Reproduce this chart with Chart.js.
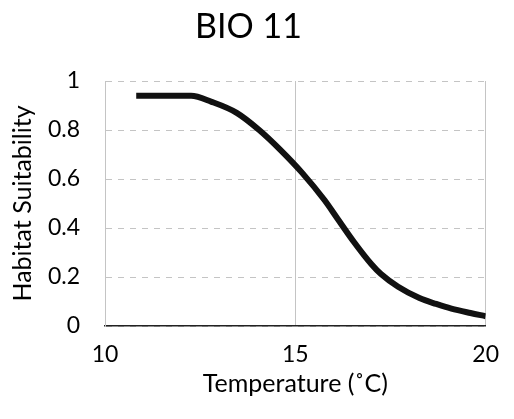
<!DOCTYPE html>
<html>
<head>
<meta charset="utf-8">
<script src="https://cdn.jsdelivr.net/npm/chart.js@4"></script>
<style>
  html, body { margin: 0; padding: 0; background: #fff; }
  #wrap { width: 514px; height: 419px; }
</style>
</head>
<body>
<div id="wrap"><canvas id="chart"></canvas></div>
<script>
// valores
const temperatura = [10.82, 11.5, 12.26, 12.8, 13.46, 14.05, 14.6, 15.18, 15.77, 16.1, 16.54, 17.0, 17.25, 17.7, 18.26, 18.7, 19.1, 19.6, 20.0];
const idoneidad   = [0.94, 0.94, 0.94, 0.915, 0.87, 0.80, 0.72, 0.625, 0.513, 0.44, 0.343, 0.252, 0.212, 0.16, 0.114, 0.09, 0.071, 0.053, 0.04];
const ticksX = [10, 15, 20];
const ticksY = [0, 0.2, 0.4, 0.6, 0.8, 1];

const fuente = 'Lato, "Open Sans", sans-serif';

const puntos = temperatura.map((t, i) => ({ x: t, y: idoneidad[i] }));

new Chart(document.getElementById('chart'), {
  type: 'line',
  data: {
    datasets: [{
      data: puntos,
      borderColor: '#111',
      borderWidth: 6,
      pointRadius: 0,
      cubicInterpolationMode: 'monotone',
      fill: false
    }]
  },
  options: {
    responsive: true,
    maintainAspectRatio: false,
    animation: false,
    layout: { padding: { left: 0, right: 17, top: 0, bottom: 0 } },
    plugins: {
      legend: { display: false },
      tooltip: { enabled: false },
      title: {
        display: true,
        text: 'BIO 11',
        color: '#000',
        font: { family: fuente, size: 34, weight: 'normal' },
        padding: { top: 7, bottom: 33.2 }
      }
    },
    scales: {
      x: {
        type: 'linear',
        min: 10,
        max: 20,
        afterBuildTicks: s => { s.ticks = ticksX.map(v => ({ value: v })); },
        afterFit: s => { s.height = 93; },
        ticks: { color: '#000', font: { family: fuente, size: 23 }, padding: 15, maxRotation: 0 },
        grid: { color: '#c4c4c4', lineWidth: 1, drawTicks: false },
        border: { color: '#222', width: 1.5 },
        title: {
          display: true,
          text: 'Temperature (˚C)',
          color: '#000',
          font: { family: fuente, size: 25 },
          padding: { top: 0, bottom: 20 }
        }
      },
      y: {
        min: 0,
        max: 1,
        afterBuildTicks: s => { s.ticks = ticksY.map(v => ({ value: v })); },
        afterFit: s => { s.width = 105; },
        ticks: {
          color: '#000',
          font: { family: fuente, size: 23 },
          padding: 25,
          callback: v => String(v)
        },
        grid: { color: '#c4c4c4', lineWidth: 1, drawTicks: false },
        border: { color: '#c4c4c4', dash: [6, 6] },
        title: {
          display: true,
          text: 'Habitat Suitability',
          color: '#000',
          font: { family: fuente, size: 25 },
          padding: { top: 8, bottom: 0 }
        }
      }
    }
  }
});
</script>
</body>
</html>
